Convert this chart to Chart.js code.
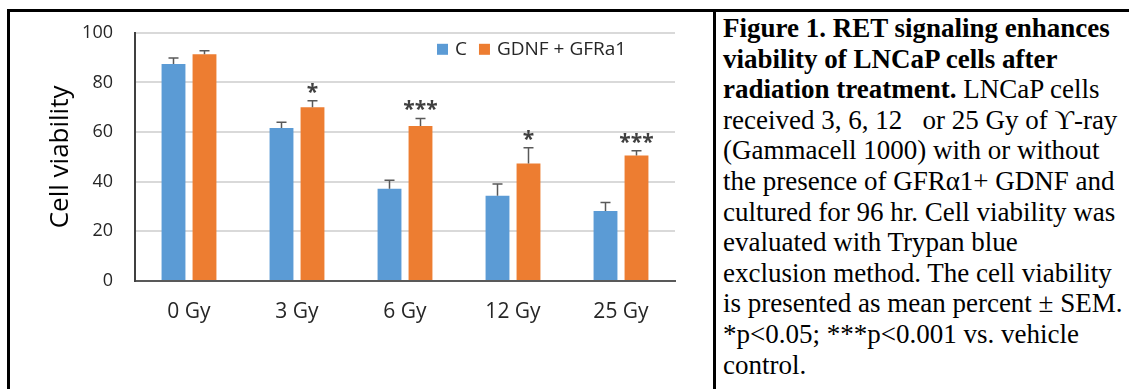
<!DOCTYPE html>
<html>
<head>
<meta charset="utf-8">
<script src="https://cdn.jsdelivr.net/npm/chart.js@4.4.1/dist/chart.umd.min.js"></script>
<style>
  body { margin: 0; background: #fff; width: 1129px; height: 389px; overflow: hidden; position: relative; }
  #chart-box { position: absolute; left: 0; top: 0; width: 713px; height: 389px; }
  .rule { position: absolute; background: #000; z-index: 2; }
  #caption {
    position: absolute; left: 723px; top: 13px;
    font-family: "Liberation Serif", "Times New Roman", serif;
    font-size: 27px; line-height: 30.6px; color: #000; white-space: nowrap;
  }
</style>
</head>
<body>
<div id="chart-box"><canvas id="viability-chart"></canvas></div>
<div class="rule" style="left:7px; top:9px; width:1122px; height:3px;"></div>
<div class="rule" style="left:7px; top:9px; width:3px; height:380px;"></div>
<div class="rule" style="left:713px; top:9px; width:3px; height:380px;"></div>
<div id="caption">
<b>Figure 1. RET signaling enhances</b><br>
<b>viability of LNCaP cells after</b><br>
<b>radiation treatment.</b> LNCaP cells<br>
received 3, 6, 12 &nbsp;&nbsp;or 25 Gy of ϒ-ray<br>
(Gammacell 1000) with or without<br>
the presence of GFRα1+ GDNF and<br>
cultured for 96 hr. Cell viability was<br>
evaluated with Trypan blue<br>
exclusion method. The cell viability<br>
is presented as mean percent ± SEM.<br>
*p&lt;0.05; ***p&lt;0.001 vs. vehicle<br>
control.
</div>
<script>
const categories = ['0 Gy', '3 Gy', '6 Gy', '12 Gy', '25 Gy'];
const controlValues = [87.4, 61.6, 37.2, 34.3, 28.2];
const controlErrors = [2.4, 2.4, 3.4, 4.8, 3.4];
const treatedValues = [91.4, 70.0, 62.5, 47.3, 50.6];
const treatedErrors = [1.4, 2.6, 3.0, 6.4, 1.9];
const significance = ['', '*', '***', '*', '***'];
const seriesNames = ['C', 'GDNF + GFRa1'];

const blue = '#5b9bd5';
const orange = '#ed7d31';
const textColor = '#262626';
const fontName = '"Open Sans", "Noto Sans", sans-serif';

// upper error bars + significance stars
const errorBarPlugin = {
    id: 'errorBars',
    afterDatasetsDraw(chart) {
        const ctx = chart.ctx;
        const yScale = chart.scales.y;
        chart.data.datasets.forEach(function(ds, i) {
            const meta = chart.getDatasetMeta(i);
            meta.data.forEach(function(bar, j) {
                const top = yScale.getPixelForValue(ds.data[j] + ds.errors[j]);
                ctx.save();
                ctx.strokeStyle = '#595959';
                ctx.lineWidth = 1.5;
                ctx.beginPath();
                ctx.moveTo(bar.x, bar.y);
                ctx.lineTo(bar.x, top);
                ctx.moveTo(bar.x - 5, top);
                ctx.lineTo(bar.x + 5, top);
                ctx.stroke();
                if (i === 1 && significance[j]) {
                    ctx.fillStyle = '#404040';
                    ctx.font = 'bold 21px ' + fontName;
                    ctx.textAlign = 'center';
                    ctx.textBaseline = 'alphabetic';
                    ctx.fillText(significance[j], bar.x, top - 2);
                }
                ctx.restore();
            });
        });
    }
};

// legend drawn inside the plot, top right
const innerLegendPlugin = {
    id: 'innerLegend',
    afterDraw(chart) {
        const ctx = chart.ctx;
        const area = chart.chartArea;
        let x = area.left + 302;
        const y = area.top + 16;
        ctx.save();
        ctx.font = '19px ' + fontName;
        ctx.textBaseline = 'middle';
        ctx.textAlign = 'left';
        chart.data.datasets.forEach(function(ds) {
            ctx.fillStyle = ds.backgroundColor;
            ctx.fillRect(x, y - 5, 11, 11);
            ctx.fillStyle = textColor;
            ctx.fillText(ds.label, x + 18, y + 1);
            x += 18 + ctx.measureText(ds.label).width + 12;
        });
        ctx.restore();
    }
};

const chart = new Chart(document.getElementById('viability-chart'), {
    type: 'bar',
    data: {
        labels: categories,
        datasets: [
            { label: seriesNames[0], data: controlValues, errors: controlErrors, backgroundColor: blue },
            { label: seriesNames[1], data: treatedValues, errors: treatedErrors, backgroundColor: orange }
        ]
    },
    options: {
        animation: false,
        responsive: true,
        maintainAspectRatio: false,
        layout: { padding: { left: 41, top: 31, right: 38, bottom: 0 } },
        datasets: { bar: { categoryPercentage: 0.574, barPercentage: 0.77 } },
        plugins: {
            legend: { display: false },
            tooltip: { enabled: false }
        },
        scales: {
            x: {
                grid: { display: false, drawTicks: false },
                border: { display: true, color: '#595959', width: 2 },
                ticks: { color: textColor, font: { family: fontName, size: 21 }, padding: 18 },
                afterFit: function(scale) { scale.height = 108; }
            },
            y: {
                min: 0,
                max: 100,
                ticks: { stepSize: 20, color: textColor, font: { family: fontName, size: 18 }, padding: 22 },
                grid: { color: '#d9d9d9', lineWidth: 2, drawTicks: false },
                border: { display: true, color: '#404040', width: 2 },
                title: { display: true, text: 'Cell viability', color: '#000', font: { family: fontName, size: 26 } },
                afterFit: function(scale) { scale.width = 94; }
            }
        }
    },
    plugins: [errorBarPlugin, innerLegendPlugin]
});
</script>
</body>
</html>
